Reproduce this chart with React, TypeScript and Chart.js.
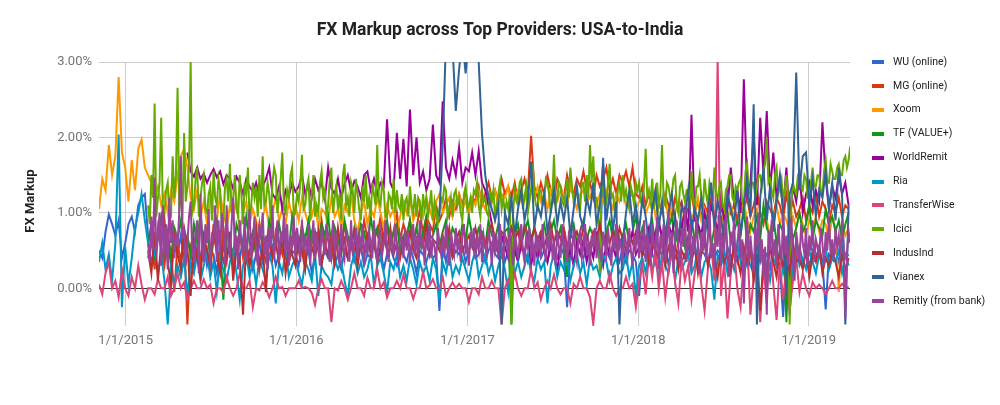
import React, { useEffect, useRef } from 'react';
import { Chart, registerables } from 'chart.js';

Chart.register(...registerables);

const TITLE = 'FX Markup across Top Providers: USA-to-India';
const Y_TITLE = 'FX Markup';
const FIRST_DATE = '2014-11-05';
const LAST_DATE = '2019-03-30';
const X_TICK_DATES = ['2015-01-01', '2016-01-01', '2017-01-01', '2018-01-01', '2019-01-01'];
const X_TICK_LABELS = ['1/1/2015', '1/1/2016', '1/1/2017', '1/1/2018', '1/1/2019'];
const Y_TICKS = [0, 1, 2, 3];
const Y_MIN = -0.5;
const Y_MAX = 3;

const SERIES_NAMES = ['WU (online)', 'MG (online)', 'Xoom', 'TF (VALUE+)', 'WorldRemit', 'Ria', 'TransferWise', 'Icici', 'IndusInd', 'Vianex', 'Remitly (from bank)'];
const SERIES_COLORS = ['#3366CC', '#DC3912', '#FF9900', '#109618', '#990099', '#0099C6', '#DD4477', '#66AA00', '#B82E2E', '#316395', '#994499'];
const SERIES_START = ['2014-11-05', '2015-02-18', '2014-11-05', '2015-02-18', '2015-05-13', '2014-11-05', '2014-11-05', '2015-02-18', '2015-02-18', '2016-11-02', '2015-02-18'];
// days between successive readings of each series
const SERIES_STEP_DAYS = [7, 7, 7, 7, 7, 7, 7, 3.5, 7, 7, 3.5];

// readings, in hundredths of a percent
const WU = [
  50,40,75,98,85,70,90,40,60,85,
  95,75,110,120,125,70,60,45,70,55,
  40,65,30,55,45,70,35,60,50,25,
  55,40,65,30,50,45,20,60,35,50,
  45,30,55,40,65,35,50,25,45,60,
  35,50,40,55,30,45,60,40,35,50,
  45,30,55,40,50,20,45,60,35,50,
  40,55,30,45,25,50,40,60,35,45,
  55,30,45,40,60,35,50,25,45,55,
  40,30,50,45,35,55,40,20,50,45,
  35,50,40,45,-30,55,35,60,40,50,
  45,55,35,50,60,40,45,55,35,50,
  60,45,40,55,35,50,45,60,40,55,
  50,35,55,45,60,40,50,35,55,45,
  40,55,45,-25,50,35,60,45,40,55,
  50,45,60,35,173,50,40,55,45,35,
  55,40,50,45,35,-10,50,40,55,45,
  35,50,45,60,30,55,40,50,35,45,
  55,40,60,30,50,45,35,55,40,50,
  45,30,55,40,50,35,60,45,30,50,
  40,55,35,50,45,25,55,40,30,-38,
  45,-35,50,40,55,35,45,30,50,40,
  55,35,-28,45,40,50,35,55,40,45,
];

const MG = [
  40,65,25,80,50,30,70,45,-5,60,
  35,75,-48,55,40,85,30,60,45,20,
  70,50,35,80,45,60,25,55,75,40,
  55,30,70,45,85,50,35,65,40,75,
  60,45,80,35,55,70,50,85,40,65,
  75,45,60,90,55,70,40,80,65,50,
  85,60,70,45,75,55,90,65,50,80,
  70,95,60,80,55,75,100,65,85,70,
  90,60,80,105,70,95,85,75,110,90,
  100,120,95,115,105,125,110,130,100,120,
  115,135,110,125,140,120,130,115,145,125,
  135,120,140,115,130,145,125,202,135,120,
  140,125,150,130,115,145,135,120,150,130,
  125,145,135,155,130,140,120,150,135,145,
  160,130,145,125,150,140,155,135,160,125,
  120,135,110,125,105,130,115,100,125,110,
  95,120,105,115,90,110,125,100,115,95,
  110,100,120,90,115,105,95,125,100,110,
  90,115,105,120,95,110,130,100,85,115,
  105,95,120,110,90,125,100,115,95,105,
  120,90,110,100,125,95,115,105,85,110,
  100,120,95,110,105,
];

const XOOM = [
  105,145,130,190,150,175,280,180,160,115,
  170,130,185,197,160,150,140,120,135,110,
  125,100,130,115,150,175,185,160,120,105,
  130,95,115,85,120,105,90,125,100,80,
  110,95,120,75,100,115,85,105,90,70,
  95,110,80,100,120,90,105,85,115,95,
  110,90,120,100,85,95,115,80,105,100,
  90,120,95,105,80,110,100,125,90,75,
  100,115,85,105,95,120,100,80,110,95,
  105,75,95,115,100,120,90,105,115,95,
  120,105,90,115,125,100,110,120,95,115,
  125,105,115,100,120,110,130,115,105,125,
  115,130,110,125,120,135,105,120,130,115,
  125,110,130,120,135,115,125,105,130,120,
  115,130,125,110,135,120,105,125,130,115,
  120,135,110,125,115,130,120,105,125,115,
  130,110,120,125,105,115,120,100,110,125,
  95,115,105,120,90,110,100,115,85,105,
  110,95,100,120,90,105,85,110,100,95,
  80,105,90,110,95,85,100,115,90,75,
  95,105,80,100,90,70,95,110,85,100,
  90,75,95,80,100,85,70,90,80,95,
  75,90,85,65,95,80,-5,85,70,80,
];

const TF = [
  60,85,45,70,95,50,75,40,80,65,
  90,55,70,45,85,60,100,50,75,40,
  65,90,55,-15,80,60,45,85,70,55,
  95,60,75,45,80,65,50,90,70,55,
  85,60,75,50,95,70,55,80,65,90,
  60,75,50,85,70,95,55,80,65,45,
  90,70,55,80,60,85,75,50,95,65,
  80,55,70,90,60,75,85,50,70,65,
  90,60,80,55,75,95,65,70,85,55,
  75,90,60,80,70,55,85,65,95,70,
  60,80,75,55,90,70,65,85,60,75,
  80,-48,70,85,60,75,90,65,80,55,
  70,85,60,75,90,65,80,55,15,70,
  85,60,75,90,65,80,70,55,85,60,
  75,90,65,80,55,70,85,60,75,95,
  65,80,60,75,90,55,85,70,65,80,
  95,60,75,85,55,70,90,65,80,60,
  75,95,55,80,70,65,85,100,60,75,
  90,70,105,60,85,75,95,65,110,80,
  70,95,60,85,75,-45,90,65,80,100,
  75,85,110,65,90,80,70,105,85,95,
  75,90,65,85,100,
];

const WORLDREMIT = [
  180,155,148,160,145,152,140,150,158,147,
  155,138,150,145,132,148,140,125,145,135,
  128,140,120,135,145,160,125,118,135,105,
  130,122,140,128,135,150,125,138,120,145,
  130,140,118,160,132,125,145,120,138,150,
  128,142,135,120,150,155,130,145,125,140,
  135,224,140,130,206,145,198,135,237,150,
  200,140,155,130,145,217,150,140,248,160,
  145,170,150,187,140,160,155,180,150,182,
  140,130,110,85,60,45,70,55,40,65,
  50,35,60,45,70,30,55,40,65,50,
  35,60,45,25,55,70,40,50,30,60,
  45,65,35,55,40,70,50,30,60,45,
  55,40,65,50,35,60,75,45,55,70,
  60,80,50,75,90,65,55,85,70,95,
  60,80,105,75,230,90,85,70,100,80,
  110,95,75,120,90,105,160,115,130,100,
  277,125,140,205,110,226,150,235,130,180,
  120,145,105,160,95,135,115,150,100,125,
  140,110,130,115,220,145,105,135,120,150,
  125,140,110,
];

const RIA = [
  35,60,25,45,10,60,204,-25,55,5,
  40,80,100,125,90,60,35,50,20,45,
  10,-48,25,5,30,15,40,-10,35,20,
  45,10,30,50,15,35,-5,40,25,10,
  35,50,20,-15,30,45,15,35,5,40,
  25,10,45,30,-20,35,20,50,15,30,
  40,20,5,35,25,10,45,-10,30,20,
  15,5,40,25,35,10,-10,30,45,20,
  35,15,25,45,5,30,40,20,-5,35,
  25,45,15,30,10,40,25,5,35,20,
  30,10,40,25,-15,35,20,45,15,30,
  20,40,25,10,35,50,15,30,45,20,
  35,10,30,45,25,-5,40,20,35,15,
  30,45,20,10,40,25,35,-20,30,45,
  15,35,25,40,10,30,45,20,35,5,
  40,25,30,15,45,35,10,30,40,20,
  25,45,15,35,-10,30,40,20,50,25,
  35,15,45,30,20,50,10,40,25,35,
  45,20,30,55,15,35,40,25,-15,45,
  30,50,20,40,25,60,35,15,45,30,
  20,45,55,25,35,10,40,30,50,20,
  35,45,15,55,30,40,25,50,35,20,
  45,30,55,25,40,35,50,20,45,30,
];

const TRANSFERWISE = [
  5,-8,20,35,0,10,-12,25,0,-10,
  15,0,30,5,-15,0,0,-8,12,0,
  0,15,-10,0,20,0,8,-15,0,10,
  0,0,12,0,5,-20,0,0,-6,15,
  0,-10,0,20,0,0,10,-25,0,-3,
  8,0,-12,0,15,0,2,-10,0,0,
  0,10,0,2,0,-6,-22,0,12,0,
  0,-45,0,-3,10,0,-15,0,20,0,
  0,-10,14,0,0,25,0,8,-12,0,
  0,10,0,18,0,0,-14,0,0,22,
  0,4,12,0,0,15,-10,0,8,0,
  6,0,0,-18,0,0,-8,15,0,0,
  10,0,0,-48,0,12,0,20,0,-10,
  0,0,25,0,8,-15,0,10,0,18,
  0,-8,0,0,-20,6,0,15,0,0,
  -12,-48,0,10,0,0,20,0,-10,0,
  0,15,0,6,-25,10,30,-8,45,15,
  55,0,35,-12,25,50,8,-20,40,10,
  30,-15,20,45,5,-30,25,60,10,305,
  -10,35,-40,20,55,0,-25,40,65,-35,
  15,50,-45,30,-20,70,5,-42,35,-15,
  25,-30,10,40,-5,20,0,-10,8,0,
  5,0,-8,0,10,0,0,6,0,2,
];

const ICICI = [
  110,85,150,120,245,95,120,140,226,105,
  100,130,140,90,95,175,120,150,266,110,
  120,90,206,115,135,160,300,100,110,145,
  160,95,120,140,150,105,100,125,135,90,
  155,120,110,145,130,85,90,135,145,115,
  165,100,120,150,105,95,150,125,85,140,
  125,160,90,110,140,120,135,95,150,105,
  175,110,115,140,125,90,140,160,150,100,
  120,145,180,105,100,130,120,150,160,95,
  100,125,115,140,177,105,110,135,145,90,
  125,150,95,110,100,140,155,120,130,95,
  110,145,160,100,120,135,105,125,90,150,
  165,110,120,95,140,130,100,145,125,105,
  90,135,115,150,105,120,95,140,125,110,
  190,115,110,140,130,95,95,125,120,105,
  145,100,130,110,105,125,90,115,120,95,
  135,110,100,125,95,120,115,90,125,105,
  120,95,110,130,90,115,100,85,105,120,
  115,135,130,95,105,120,95,125,130,110,
  120,100,90,125,135,105,110,120,100,130,
  125,140,110,95,130,115,120,100,95,125,
  115,130,95,110,125,140,105,120,100,115,
  105,125,-48,100,130,115,110,140,145,105,
  120,135,100,115,130,165,125,110,105,130,
  130,110,115,145,140,125,100,120,177,110,
  120,140,135,115,110,125,145,120,160,135,
  115,125,130,110,105,140,140,115,150,120,
  190,140,175,120,120,105,20,130,135,110,
  110,140,165,120,125,105,100,130,140,115,
  150,120,130,115,105,135,125,110,140,130,
  140,115,110,135,185,120,130,115,145,105,
  120,140,110,125,190,115,110,140,135,120,
  125,145,150,110,100,135,140,125,115,130,
  130,105,155,120,105,135,135,150,120,110,
  145,125,110,140,130,115,160,125,120,135,
  140,110,105,130,135,150,150,120,115,135,
  130,140,145,115,110,155,165,130,125,140,
  140,120,135,150,150,135,155,165,200,140,
  145,130,120,150,160,125,135,145,115,130,
  150,125,-48,115,140,130,125,150,155,135,
  130,150,145,120,120,140,160,135,135,150,
  150,130,125,155,170,140,140,165,155,145,
  145,160,165,150,150,170,175,160,170,188,
];

const INDUSIND = [
  50,20,75,10,60,90,35,5,70,45,
  25,80,55,-10,65,40,15,70,50,30,
  85,45,20,60,35,75,10,55,40,-35,
  65,30,50,80,25,55,-5,70,40,60,
  35,75,20,55,45,30,65,50,25,70,
  55,40,75,30,60,45,70,35,80,50,
  65,40,55,75,30,60,50,70,45,65,
  35,55,70,50,80,45,60,40,65,55,
  75,50,40,70,55,85,45,65,60,50,
  70,55,80,45,65,75,50,60,70,55,
  80,60,70,55,75,85,65,60,75,70,
  60,80,65,75,55,85,70,60,80,65,
  75,55,70,85,60,75,65,80,55,70,
  65,75,60,80,70,55,75,65,85,60,
  70,60,75,55,80,65,50,70,60,75,
  55,45,65,35,60,50,40,70,30,55,
  45,60,25,50,40,65,35,55,20,45,
  60,30,50,40,15,55,35,45,25,60,
  40,20,55,35,50,10,45,-30,40,25,
  55,35,15,50,30,45,20,60,35,40,
  25,50,15,45,35,55,20,40,30,50,
  35,15,45,25,40,
];

const VIANEX = [
  95,190,330,305,320,235,290,330,285,330,
  320,330,300,205,150,120,105,90,110,-48,
  100,85,120,70,105,130,90,115,168,80,
  110,95,125,75,100,130,85,115,90,120,
  70,105,135,95,80,120,100,140,85,110,
  165,90,125,75,115,-48,60,100,130,85,
  110,75,120,95,60,105,130,80,115,70,
  100,125,85,60,110,95,130,75,105,90,
  120,65,100,140,80,115,95,60,125,105,
  85,130,70,110,145,95,244,-48,120,160,
  90,135,75,115,150,100,-10,125,140,286,
  130,175,180,110,145,95,130,120,155,105,
  140,90,160,125,-48,110,
];

const REMITLY = [
  60,35,95,50,147,40,70,100,30,110,
  45,85,25,120,60,90,40,70,55,100,
  175,65,80,30,60,95,115,45,40,75,
  90,20,125,55,35,85,60,105,25,70,
  65,110,35,90,45,100,80,30,110,60,
  40,85,120,50,70,25,90,60,45,95,
  35,75,105,40,60,95,50,30,85,65,
  100,45,70,25,80,55,110,40,65,90,
  35,75,60,100,45,85,30,70,55,95,
  40,80,60,35,90,50,70,45,85,30,
  65,90,40,75,55,30,80,60,45,85,
  70,35,60,90,45,75,50,30,85,55,
  40,75,65,35,90,50,60,80,40,70,
  55,85,30,65,45,75,60,40,90,55,
  35,70,80,45,60,90,50,35,75,60,
  45,85,55,30,70,65,40,80,50,75,
  35,60,85,45,70,40,90,55,65,30,
  75,50,85,40,65,55,35,80,60,45,
  70,40,85,55,30,75,60,45,80,50,
  65,35,70,85,45,60,30,75,55,80,
  40,65,50,85,35,70,55,45,80,60,
  30,75,50,65,40,85,55,35,70,60,
  45,80,55,30,75,60,40,65,85,50,
  35,70,55,80,45,60,30,75,50,65,
  40,85,55,35,70,50,80,45,60,30,
  75,55,40,85,50,65,35,70,60,45,
  80,50,35,65,75,40,55,85,45,60,
  30,70,55,80,40,65,50,35,75,60,
  45,80,55,30,70,50,85,40,65,55,
  35,75,60,45,80,50,30,70,55,85,
  40,65,50,90,35,70,55,30,85,60,
  45,95,25,70,55,85,35,60,100,40,
  75,20,65,90,50,30,80,55,105,35,
  60,85,25,70,45,95,55,20,75,50,
  90,35,65,110,40,60,25,80,55,95,
  30,70,50,100,45,15,75,60,90,35,
  55,85,40,65,-20,50,95,30,70,45,
  20,80,55,100,35,65,15,55,-35,75,
  50,90,40,65,25,85,55,35,100,45,
  70,30,60,95,40,10,75,55,35,85,
  60,45,80,30,70,50,90,35,65,55,
  40,80,60,30,75,50,95,45,65,35,
  80,55,70,40,90,60,-40,45,75,60,
];

const SERIES_VALUES = [WU, MG, XOOM, TF, WORLDREMIT, RIA, TRANSFERWISE, ICICI, INDUSIND, VIANEX, REMITLY];

const parseUTC = (s: string) => {
  const [y, m, d] = s.split('-').map(Number);
  return Date.UTC(y, m - 1, d);
};
const dayOf = (s: string) => Math.round((parseUTC(s) - parseUTC(FIRST_DATE)) / 86400000);

const decorPlugin = {
  id: 'decor',
  afterDraw(chart: any) {
    const ctx = chart.ctx as CanvasRenderingContext2D;
    ctx.save();
    ctx.fillStyle = '#222222';
    ctx.font = 'bold 17.5px Roboto';
    ctx.textAlign = 'center';
    ctx.textBaseline = 'middle';
    ctx.fillText(TITLE, 500, 31);

    ctx.save();
    ctx.translate(31, 201);
    ctx.rotate(-Math.PI / 2);
    ctx.font = 'bold 13px Roboto';
    ctx.fillText(Y_TITLE, 0, 0);
    ctx.restore();

    ctx.textAlign = 'left';
    ctx.font = '10.5px Roboto';
    chart.data.datasets.forEach((ds: any, k: number) => {
      const y = 62 + k * 23.9;
      ctx.fillStyle = ds.borderColor;
      ctx.fillRect(872, Math.round(y) - 2, 12, 4);
      ctx.fillStyle = '#222222';
      ctx.fillText(ds.label, 893, y);
    });
    ctx.restore();
  },
};

export default function App() {
  const canvasRef = useRef<HTMLCanvasElement | null>(null);

  useEffect(() => {
    const canvas = canvasRef.current;
    if (!canvas) return;
    const datasets = SERIES_NAMES.map((name, k) => {
      const start = dayOf(SERIES_START[k]);
      const step = SERIES_STEP_DAYS[k];
      return {
        label: name,
        data: SERIES_VALUES[k].map((v, j) => ({ x: start + j * step, y: v / 100 })),
        borderColor: SERIES_COLORS[k],
        backgroundColor: SERIES_COLORS[k],
        borderWidth: 2,
        pointRadius: 0,
        pointHoverRadius: 0,
        tension: 0,
        fill: false,
        order: SERIES_NAMES.length - 1 - k,
        clip: 0,
      };
    });

    const chart = new Chart(canvas, {
      type: 'line',
      data: { datasets } as any,
      options: {
        animation: false,
        responsive: false,
        devicePixelRatio: 1,
        layout: { padding: { left: 0, right: 150, top: 62, bottom: 0 } },
        plugins: {
          legend: { display: false },
          title: { display: false },
          tooltip: { enabled: false },
        },
        scales: {
          x: {
            type: 'linear',
            min: dayOf(FIRST_DATE),
            max: dayOf(LAST_DATE),
            afterBuildTicks: (sc: any) => {
              sc.ticks = X_TICK_DATES.map((d) => ({ value: dayOf(d) }));
            },
            afterFit: (sc: any) => {
              sc.height = 79;
            },
            ticks: {
              autoSkip: false,
              maxRotation: 0,
              padding: 7,
              color: '#757575',
              font: { family: 'Roboto', size: 13 },
              callback: (_v: any, i: number) => X_TICK_LABELS[i],
            },
            grid: { color: '#cccccc', drawTicks: false, lineWidth: 1 },
            border: { display: false },
          },
          y: {
            min: Y_MIN,
            max: Y_MAX,
            afterBuildTicks: (sc: any) => {
              sc.ticks = Y_TICKS.map((v) => ({ value: v }));
            },
            afterFit: (sc: any) => {
              sc.width = 99;
            },
            ticks: {
              padding: 7,
              color: '#757575',
              font: { family: 'Roboto', size: 13 },
              callback: (v: any) => Number(v).toFixed(2) + '%',
            },
            grid: {
              color: (c: any) => (c.tick && c.tick.value === 0 ? '#333333' : '#cccccc'),
              drawTicks: false,
              lineWidth: 1,
            },
            border: { display: false },
          },
        },
      } as any,
      plugins: [decorPlugin],
    });
    return () => chart.destroy();
  }, []);

  return (
    <div style={{ position: 'fixed', left: 0, top: 0, width: 1000, height: 405, background: '#ffffff' }}>
      <canvas ref={canvasRef} width={1000} height={405} style={{ display: 'block', width: 1000, height: 405 }} />
    </div>
  );
}
